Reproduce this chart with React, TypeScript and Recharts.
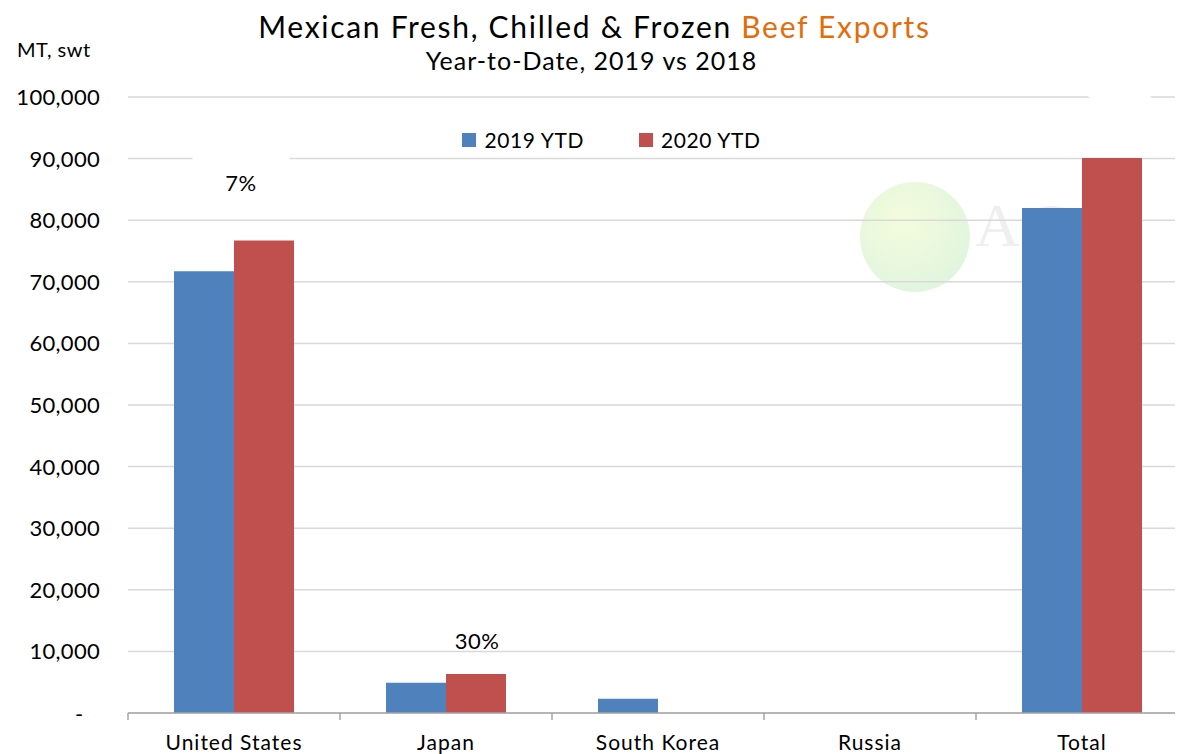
import React from "react";
import { BarChart, Bar, XAxis, YAxis, CartesianGrid, LabelList } from "recharts";

const categories = ["United States", "Japan", "South Korea", "Russia", "Total"];
const ytd2019 = [71700, 4900, 2300, 0, 82000];
const ytd2020 = [76700, 6350, 0, 0, 90100];
const growthLabels = ["7%", "30%", "-100%", "", "10%"];
const yTicks = [0, 10000, 20000, 30000, 40000, 50000, 60000, 70000, 80000, 90000, 100000];
const seriesNames = ["2019 YTD", "2020 YTD"];

const data = categories.map((c, i) => ({ name: c, y2019: ytd2019[i], y2020: ytd2020[i], g: growthLabels[i] }));

// style-only constants
const FONT = "Lato, 'Open Sans', sans-serif";
const BLUE = "#4F81BD";
const RED = "#C0504D";
const W = 1183;
const H = 754;
const XH = 41;
const M = { top: 97, right: -5, bottom: 0, left: 0 };
const YW = 128;
const AXIS_Y = H - XH;
const BAND = (W - M.left - M.right - YW) / categories.length;
// per-label placement (dx, dy from 2020 bar top-center; box w,h; text colour; box?)
const labelStyle = [
  { dx: -23, dy: -57, bw: 97, bh: 62, fill: "#000", box: true },
  { dx: 1, dy: -32, bw: 0, bh: 0, fill: "#000", box: false },
  { dx: 8, dy: -62, bw: 60, bh: 26, fill: "#fff", box: true },
  { dx: 0, dy: 0, bw: 0, bh: 0, fill: "#000", box: false },
  { dx: -8, dy: -66, bw: 85, bh: 30, fill: "#000", box: true },
];

const YTick = (props: any) => {
  const { x, y, payload } = props;
  if (payload.value === 0) {
    return (
      <text x={x - 21} y={y} dy={9} textAnchor="middle" fontFamily={FONT} fontSize={22} fill="#000">-</text>
    );
  }
  return (
    <text x={x} y={y} dy={8} textAnchor="end" fontFamily={FONT} fontSize={22} letterSpacing={0.3} fill="#000">
      {payload.value.toLocaleString("en-US")}
    </text>
  );
};

const XTick = (props: any) => {
  const { x, payload, index } = props;
  const left = x - BAND / 2;
  return (
    <g>
      <line x1={left} x2={left} y1={AXIS_Y} y2={AXIS_Y + 7} stroke="#A6A6A6" strokeWidth={1.5} />
      {index === categories.length - 1 && (
        <line x1={x + BAND / 2} x2={x + BAND / 2} y1={AXIS_Y} y2={AXIS_Y + 7} stroke="#A6A6A6" strokeWidth={1.5} />
      )}
      <text x={x} y={AXIS_Y + 37} textAnchor="middle" fontFamily={FONT} fontSize={21} letterSpacing={1} fill="#000">
        {payload.value}
      </text>
    </g>
  );
};

const GrowthLabel = (props: any) => {
  const { x, y, width, index } = props;
  const txt = growthLabels[index];
  if (!txt) return null;
  const s = labelStyle[index];
  const cx = x + width / 2 + s.dx;
  const cy = y + s.dy;
  return (
    <g>
      {s.box && <rect x={cx - s.bw / 2} y={cy - s.bh / 2} width={s.bw} height={s.bh} fill="#fff" />}
      <text x={cx} y={cy} dy={7} textAnchor="middle" fontFamily={FONT} fontSize={22} letterSpacing={0.5} fill={s.fill}>
        {txt}
      </text>
    </g>
  );
};

export default function App() {
  return (
    <div style={{ position: "relative", width: W, height: H, marginLeft: -8, marginTop: -8, background: "#fff", overflow: "hidden" }}>
      {/* faint watermark */}
      <div style={{ position: "absolute", left: 860, top: 182, width: 110, height: 110, borderRadius: "50%", background: "radial-gradient(circle at 40% 35%, #f3fbd8, #d6f2dc)", opacity: 0.9 }} />
      <div style={{ position: "absolute", left: 975, top: 190, fontFamily: "'Liberation Serif', serif", fontSize: 62, color: "#efefef", letterSpacing: 8 }}>AGS</div>

      <div style={{ position: "absolute", left: 0, top: 8, width: W, textAlign: "center", fontFamily: FONT, fontSize: 30, letterSpacing: 1.7, color: "#000", paddingLeft: 6, boxSizing: "border-box" }}>
        Mexican Fresh, Chilled &amp; Frozen <span style={{ color: "#E46C0A" }}>Beef Exports</span>
      </div>
      <div style={{ position: "absolute", left: 0, top: 45, width: W, textAlign: "center", fontFamily: FONT, fontSize: 25, letterSpacing: 1, color: "#000" }}>
        Year-to-Date, 2019 vs 2018
      </div>
      <div style={{ position: "absolute", left: 17, top: 37, fontFamily: FONT, fontSize: 20, letterSpacing: 0.5, color: "#000" }}>MT, swt</div>

      {/* legend */}
      <div style={{ position: "absolute", left: 0, top: 127, width: W, display: "flex", justifyContent: "center", fontFamily: FONT, fontSize: 21, letterSpacing: 0.6, color: "#000", paddingLeft: 40, boxSizing: "border-box" }}>
        {[BLUE, RED].map((c, i) => (
          <div key={i} style={{ display: "flex", alignItems: "center", marginLeft: i ? 55 : 0 }}>
            <div style={{ width: 14, height: 14, background: c, marginRight: 8 }} />
            <span>{seriesNames[i]}</span>
          </div>
        ))}
      </div>

      <div style={{ position: "absolute", left: 0, top: 0 }}>
        <BarChart width={W} height={H} data={data} margin={M} barCategoryGap="21.7%" barGap={0} style={{ overflow: "hidden" }}>
          <CartesianGrid horizontal vertical={false} stroke="#D9D9D9" strokeWidth={1.5} />
          <YAxis
            width={YW}
            domain={[0, 100000]}
            ticks={yTicks}
            axisLine={false}
            tickLine={false}
            tickSize={0}
            tickMargin={28}
            tick={<YTick />}
            interval={0}
          />
          <XAxis dataKey="name" height={XH} axisLine={{ stroke: "#A6A6A6", strokeWidth: 1.5 }} tickLine={false} tick={<XTick />} interval={0} />
          <Bar dataKey="y2019" name={seriesNames[0]} fill={BLUE} isAnimationActive={false} />
          <Bar dataKey="y2020" name={seriesNames[1]} fill={RED} isAnimationActive={false}>
            <LabelList dataKey="g" content={<GrowthLabel />} />
          </Bar>
        </BarChart>
      </div>
    </div>
  );
}
